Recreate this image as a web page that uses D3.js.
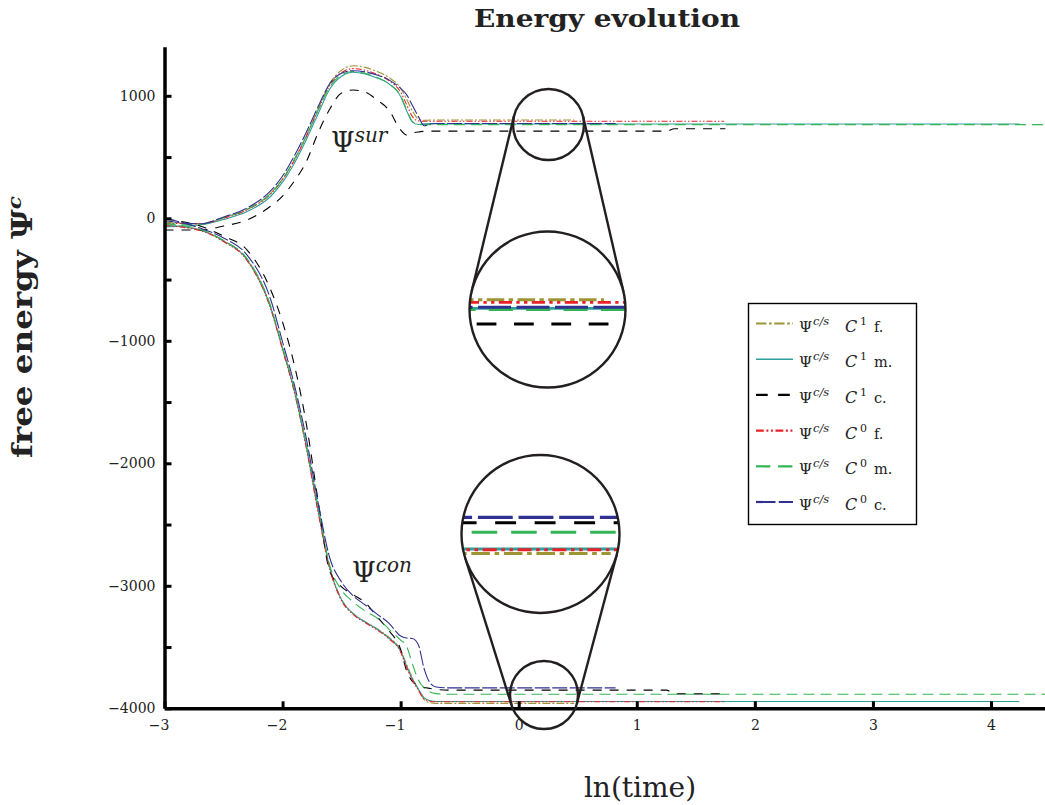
<!DOCTYPE html>
<html>
<head>
<meta charset="utf-8">
<script src="https://cdn.jsdelivr.net/npm/d3@7/dist/d3.min.js"></script>
<style>
  body { margin: 0; background: #fff; }
  svg { display: block; font-family: "DejaVu Serif", serif; }
</style>
</head>
<body>
<svg id="chart"></svg>
<script>
// ln(time) grid of the transient part, shared by all runs
const lnTime = [-3.0, -2.7, -2.5, -2.3, -2.1, -2.0, -1.9, -1.8, -1.7, -1.6, -1.5, -1.4,
  -1.3, -1.2, -1.1, -1.0, -0.95, -0.9, -0.85, -0.8, -0.75, -0.7, -0.6, -0.4];

// surface free energy (upper bundle)
const surC1f = [-30, -45, 5, 72, 205, 320, 480, 672, 890, 1100, 1210, 1245, 1232, 1198, 1150, 1062, 975, 875, 810, 800, 802, 802, 802, 802];
const surC1m = [-70, -55, -10, 55, 180, 295, 450, 640, 850, 1055, 1160, 1192, 1178, 1146, 1098, 995, 880, 785, 766, 772, 774, 772, 770, 770];
const surC1c = [-96, -96, -63, -14, 100, 182, 304, 460, 696, 892, 1023, 1047, 1031, 966, 884, 721, 680, 696, 705, 710, 712, 712, 712, 712];
const surC0f = [-40, -45, 0, 70, 200, 315, 475, 665, 880, 1085, 1190, 1222, 1208, 1175, 1125, 1030, 930, 830, 795, 792, 792, 792, 792, 792];
const surC0m = [-45, -50, 5, 75, 205, 320, 480, 670, 880, 1075, 1170, 1198, 1183, 1150, 1100, 1000, 890, 790, 765, 765, 765, 765, 765, 765];
const surC0c = [-20, -45, 10, 85, 225, 345, 510, 700, 910, 1100, 1185, 1205, 1195, 1170, 1130, 1060, 1010, 920, 830, 755, 770, 774, 774, 774];

// contact free energy (lower bundle)
const conC1f = [-50, -95, -183, -335, -725, -1060, -1400, -1850, -2375, -2850, -3112, -3228, -3294, -3350, -3420, -3525, -3640, -3752, -3845, -3930, -3955, -3960, -3960, -3960];
const conC1m = [-55, -96, -185, -340, -732, -1067, -1410, -1858, -2381, -2855, -3116, -3230, -3296, -3353, -3426, -3532, -3655, -3761, -3843, -3915, -3938, -3944, -3944, -3944];
const conC1c = [-6, -63, -145, -259, -585, -847, -1198, -1671, -2300, -2884, -3008, -3073, -3137, -3251, -3365, -3520, -3692, -3781, -3814, -3830, -3838, -3846, -3852, -3852];
const conC0f = [-60, -100, -190, -345, -740, -1075, -1420, -1870, -2395, -2865, -3122, -3236, -3302, -3360, -3432, -3540, -3665, -3770, -3852, -3925, -3942, -3947, -3947, -3947];
const conC0m = [-45, -90, -180, -330, -720, -1055, -1398, -1845, -2345, -2835, -3035, -3133, -3206, -3263, -3353, -3443, -3492, -3639, -3769, -3835, -3867, -3880, -3885, -3885];
const conC0c = [2, -80, -160, -300, -665, -1010, -1360, -1793, -2316, -2773, -2970, -3084, -3157, -3231, -3304, -3410, -3426, -3430, -3482, -3680, -3794, -3826, -3833, -3833];

// late points: the runs stop at different times (C1 c. also has a small step)
const seriesIds = ["C1f", "C1m", "C1c", "C0f", "C0m", "C0c"];
const lateTime = [[0.47], [4.24], [1.25, 1.32, 1.75], [1.74], [4.46], [0.82]];
const lateSur = [[802], [770], [712, 731, 731], [792], [765], [774]];
const lateCon = [[-3960], [-3944], [-3852, -3882, -3882], [-3947], [-3885], [-3833]];

const legendSup = ["1", "1", "1", "0", "0", "0"];
const legendTag = ["f.", "m.", "c.", "f.", "m.", "c."];
const xTicks = [-3, -2, -1, 0, 1, 2, 3, 4];
const yTicks = [-4000, -3500, -3000, -2500, -2000, -1500, -1000, -500, 0, 500, 1000];

const styles = {
  C1f: { color: "#9d9433", dash: "8,2,2,2" },
  C1m: { color: "#2e9f9b", dash: null },
  C1c: { color: "#000000", dash: "9,8" },
  C0f: { color: "#ea2027", dash: "6,2,1.5,2,1.5,2" },
  C0m: { color: "#33b553", dash: "11,6" },
  C0c: { color: "#2e3192", dash: "15,2.5" }
};

const width = 1045;
const height = 805;

const svg = d3.select("#chart")
  .attr("width", width)
  .attr("height", height);

const xScale = d3.scaleLinear().domain([-3, 4.46]).range([164.5, 1045.3]);
const yScale = d3.scaleLinear().domain([-4000, 1400]).range([708.3, 46.8]);

const series = seriesIds.map((id, i) => {
  const surV = [surC1f, surC1m, surC1c, surC0f, surC0m, surC0c][i];
  const conV = [conC1f, conC1m, conC1c, conC0f, conC0m, conC0c][i];
  return {
    id,
    sur: lnTime.map((t, j) => [t, surV[j]]).concat(lateTime[i].map((t, k) => [t, lateSur[i][k]])),
    con: lnTime.map((t, j) => [t, conV[j]]).concat(lateTime[i].map((t, k) => [t, lateCon[i][k]]))
  };
});

const line = d3.line()
  .x(d => xScale(d[0]))
  .y(d => yScale(d[1]))
  .curve(d3.curveMonotoneX);

function drawCurves(g, sw) {
  series.forEach(s => {
    ["sur", "con"].forEach(k => {
      g.append("path")
        .attr("d", line(s[k]))
        .attr("fill", "none")
        .attr("stroke", styles[s.id].color)
        .attr("stroke-width", sw)
        .attr("stroke-dasharray", styles[s.id].dash);
    });
  });
}

//curves
svg.append("clipPath").attr("id", "plotClip")
  .append("rect").attr("x", 164.5).attr("y", 40).attr("width", 890).attr("height", 670);
drawCurves(svg.append("g").attr("clip-path", "url(#plotClip)"), 1.1);

//axes
svg.append("g")
  .attr("class", "yaxis")
  .attr("transform", `translate(${xScale(-3)},0)`)
  .call(d3.axisLeft(yScale)
    .tickValues(yTicks)
    .tickSizeInner(-7)
    .tickSizeOuter(0)
    .tickPadding(9)
    .tickFormat(d => d % 1000 === 0 ? d3.format("d")(d) : ""));

svg.append("g")
  .attr("class", "xaxis")
  .attr("transform", `translate(0,${yScale(-4000)})`)
  .call(d3.axisBottom(xScale)
    .tickValues(xTicks)
    .tickSizeInner(-7)
    .tickSizeOuter(0)
    .tickPadding(12)
    .tickFormat(d3.format("d")));

svg.selectAll(".yaxis .domain, .xaxis .domain")
  .attr("stroke", "#000")
  .attr("stroke-width", 3.5);
svg.selectAll(".yaxis .tick line, .xaxis .tick line")
  .attr("stroke", "#000")
  .attr("stroke-width", 3);
svg.selectAll(".yaxis .tick text, .xaxis .tick text")
  .attr("fill", "#222")
  .style("font-family", "DejaVu Serif, serif")
  .style("font-size", "14px");
svg.selectAll(".xaxis .tick text")
  .attr("dx", d => d < 0 ? -6 : 0);

//magnifiers
function tangentPoints(a, b, sign) {
  const dx = b.cx - a.cx, dy = b.cy - a.cy;
  const D = Math.hypot(dx, dy);
  const ux = dx / D, uy = dy / D;
  const px = -uy, py = ux;
  const s = (b.r - a.r) / D, c = Math.sqrt(1 - s * s);
  const nx = -s * ux + sign * c * px, ny = -s * uy + sign * c * py;
  return [[a.cx + a.r * nx, a.cy + a.r * ny], [b.cx + b.r * nx, b.cy + b.r * ny]];
}

function magnifier(small, big, id) {
  const g = svg.append("g");
  [-1, 1].forEach(sign => {
    const [p, q] = tangentPoints(small, big, sign);
    g.append("line")
      .attr("x1", p[0]).attr("y1", p[1]).attr("x2", q[0]).attr("y2", q[1])
      .attr("stroke", "#231f20").attr("stroke-width", 2.4);
  });
  g.append("circle")
    .attr("cx", small.cx).attr("cy", small.cy).attr("r", small.r)
    .attr("fill", "none").attr("stroke", "#231f20").attr("stroke-width", 2.4);
  g.append("circle")
    .attr("cx", big.cx).attr("cy", big.cy).attr("r", big.r)
    .attr("fill", "#fff");
  svg.append("clipPath").attr("id", id)
    .append("circle").attr("cx", big.cx).attr("cy", big.cy).attr("r", big.r);
  const m = big.r / small.r;
  const inner = g.append("g").attr("clip-path", `url(#${id})`)
    .append("g")
    .attr("transform", `translate(${big.cx},${big.cy}) scale(${m}) translate(${-small.cx},${-small.cy})`);
  drawCurves(inner, 1.3);
  g.append("circle")
    .attr("cx", big.cx).attr("cy", big.cy).attr("r", big.r)
    .attr("fill", "none").attr("stroke", "#231f20").attr("stroke-width", 2.4);
}

magnifier({ cx: 548.5, cy: 124.5, r: 35.5 }, { cx: 547.5, cy: 309.5, r: 78 }, "zoomTop");
magnifier({ cx: 544, cy: 695, r: 34 }, { cx: 540.5, cy: 534, r: 79 }, "zoomBottom");

//curve labels
function psiLabel(x, y, sup) {
  const t = svg.append("text").attr("x", x).attr("y", y).attr("fill", "#222");
  t.append("tspan").style("font-size", "27px").text("Ψ");
  t.append("tspan").attr("dy", -10).style("font-size", "20px").style("font-style", "italic").text(sup);
}
psiLabel(331, 152, "sur");
psiLabel(352, 582, "con");

//legend
const legend = svg.append("g");
legend.append("rect")
  .attr("x", 748.5).attr("y", 303.5).attr("width", 168).attr("height", 221)
  .attr("fill", "#fff").attr("stroke", "#000").attr("stroke-width", 1.4);

const legendY = d3.scalePoint().domain(seriesIds).range([323.5, 502]);

seriesIds.forEach((id, i) => {
  const y = legendY(id);
  legend.append("line")
    .attr("x1", 756).attr("x2", 793).attr("y1", y).attr("y2", y)
    .attr("stroke", styles[id].color)
    .attr("stroke-width", id === "C1m" ? 1.4 : 2.2)
    .attr("stroke-dasharray", styles[id].dash ? styles[id].dash.split(",").map(v => v * 1.3).join(",") : null);
  const t = legend.append("text").attr("y", y + 8).attr("fill", "#222");
  t.append("tspan").attr("x", 799).style("font-size", "15px").text("Ψ");
  t.append("tspan").attr("x", 813).attr("dy", -7).style("font-size", "11.5px").style("font-style", "italic").text("c/s");
  t.append("tspan").attr("x", 845).attr("dy", 7).style("font-size", "16px").style("font-style", "italic").text("C");
  t.append("tspan").attr("x", 860).attr("dy", -7).style("font-size", "11px").text(legendSup[i]);
  t.append("tspan").attr("x", 874).attr("dy", 7).style("font-size", "14.5px").text(legendTag[i]);
});

//titles
svg.append("text")
  .attr("x", 607).attr("y", 27)
  .attr("text-anchor", "middle")
  .attr("textLength", 266)
  .attr("lengthAdjust", "spacingAndGlyphs")
  .style("font-weight", "bold").style("font-size", "25px")
  .attr("fill", "#222")
  .text("Energy evolution");

const yLabel = svg.append("text")
  .attr("transform", "translate(32,327) rotate(-90)")
  .attr("text-anchor", "middle")
  .attr("textLength", 262)
  .attr("lengthAdjust", "spacingAndGlyphs")
  .attr("fill", "#222")
  .style("font-weight", "bold").style("font-size", "27px");
yLabel.append("tspan").text("free energy Ψ");
yLabel.append("tspan").attr("dy", -11).style("font-size", "18px").style("font-style", "italic").text("c");

svg.append("text")
  .attr("x", 640).attr("y", 797)
  .attr("text-anchor", "middle")
  .attr("fill", "#222")
  .style("font-size", "28px")
  .text("ln(time)");
</script>
</body>
</html>
